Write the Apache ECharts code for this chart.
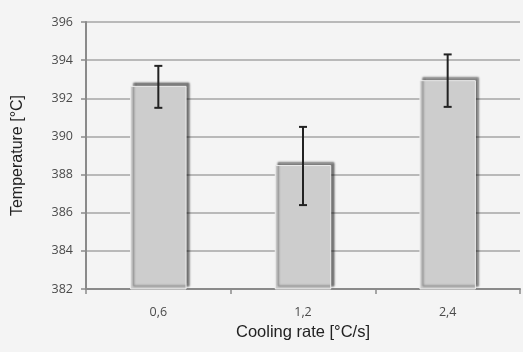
<!DOCTYPE html>
<html><head><meta charset="utf-8">
<script src="https://cdn.jsdelivr.net/npm/echarts@6/dist/echarts.min.js"></script>
<style>html,body{margin:0;padding:0;background:#f4f4f4;}#c{width:523px;height:352px;}</style>
</head><body><div id="c"></div>
<script>
var categories = ['0,6', '1,2', '2,4'];
var meanValues = [392.65, 388.5, 392.95];
var errLow = [391.5, 386.4, 391.55];
var errHigh = [393.7, 390.5, 394.3];
var yTicks = [382, 384, 386, 388, 390, 392, 394, 396];

var chart = echarts.init(document.getElementById('c'));
var errData = categories.map(function(c, i){ return [i, errLow[i], errHigh[i]]; });
chart.setOption({
  backgroundColor: '#f4f4f4',
  animation: false,
  grid: {left: 86, right: 3, top: 22, bottom: 63},
  xAxis: {
    type: 'category', data: categories,
    name: 'Cooling rate [°C/s]', nameLocation: 'middle', nameGap: 34,
    nameTextStyle: {fontFamily: 'Liberation Sans', fontSize: 16.5, color: '#222'},
    axisLine: {lineStyle: {color: '#8a8a8a', width: 2}},
    axisTick: {show: true, length: 5, lineStyle: {color: '#8a8a8a', width: 1.5}},
    axisLabel: {fontFamily: 'Open Sans', fontSize: 12.5, color: '#4a4a4a', margin: 17}
  },
  yAxis: {
    type: 'value', min: yTicks[0], max: yTicks[yTicks.length-1], interval: 2,
    name: 'Temperature [°C]', nameLocation: 'middle', nameGap: 60,
    nameTextStyle: {fontFamily: 'Liberation Sans', fontSize: 16, color: '#222'},
    axisLine: {show: true, lineStyle: {color: '#8a8a8a', width: 2}},
    axisTick: {show: true, length: 5, lineStyle: {color: '#8a8a8a', width: 1.5}},
    axisLabel: {fontFamily: 'Open Sans', fontSize: 12.5, color: '#4a4a4a', margin: 13},
    splitLine: {lineStyle: {color: '#a6a6a6', width: 1.5}}
  },
  series: [{
    type: 'bar', data: meanValues, barWidth: '39%',
    itemStyle: {color: '#cdcdcd', borderColor: '#ececec', borderWidth: 1,
      shadowColor: 'rgba(0,0,0,0.5)', shadowBlur: 2, shadowOffsetX: 3, shadowOffsetY: -3}
  }, {
    type: 'custom', data: errData, z: 10,
    renderItem: function(params, api){
      var x = api.coord([api.value(0), api.value(1)])[0];
      var yl = api.coord([api.value(0), api.value(1)])[1];
      var yh = api.coord([api.value(0), api.value(2)])[1];
      var w = 4;
      var st = {stroke: '#222', lineWidth: 2};
      return {type: 'group', children: [
        {type: 'line', shape: {x1: x, y1: yh, x2: x, y2: yl}, style: st},
        {type: 'line', shape: {x1: x-w, y1: yh, x2: x+w, y2: yh}, style: st},
        {type: 'line', shape: {x1: x-w, y1: yl, x2: x+w, y2: yl}, style: st}
      ]};
    }
  }]
});
</script></body></html>
